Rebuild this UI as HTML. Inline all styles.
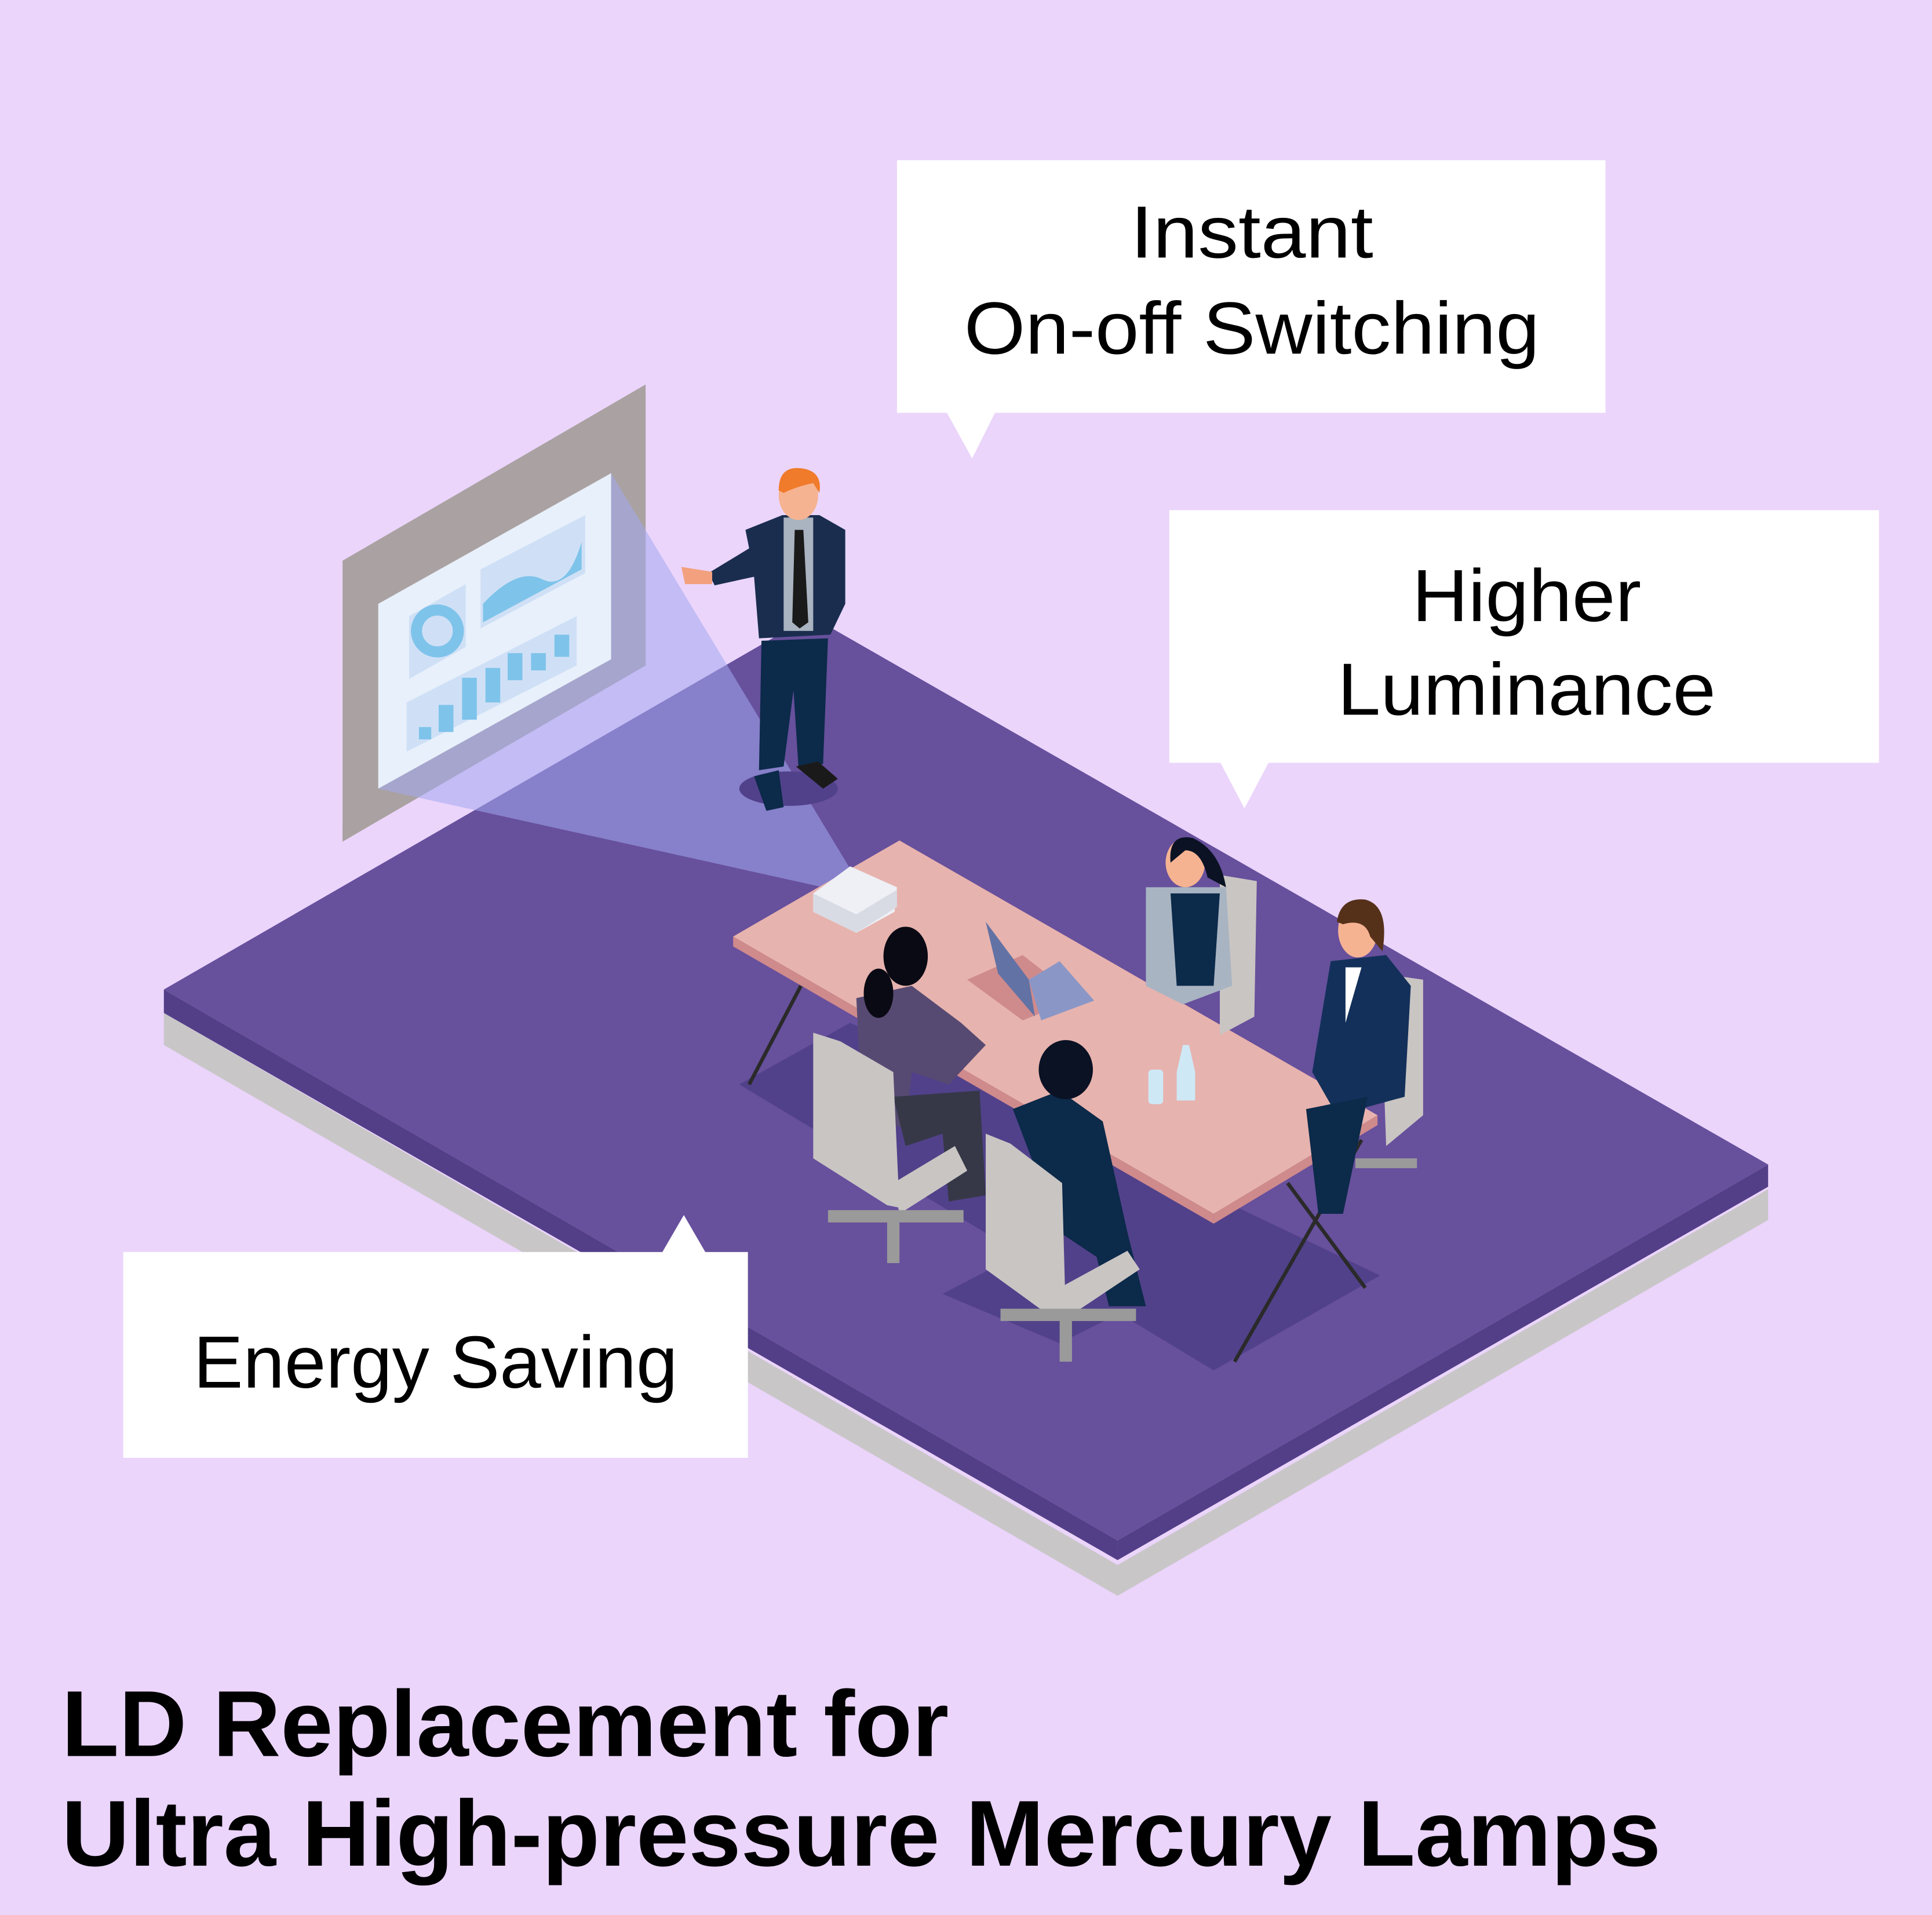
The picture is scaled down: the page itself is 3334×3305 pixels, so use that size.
<!DOCTYPE html>
<html><head><meta charset="utf-8"><style>
html,body{margin:0;padding:0;background:#ebd5fb;}
svg{display:block;}
text{font-family:"Liberation Sans","Noto Sans CJK JP",sans-serif;fill:#000;}
</style></head><body>
<svg width="3334" height="3305" viewBox="0 0 1568 1554" preserveAspectRatio="none" xmlns="http://www.w3.org/2000/svg">
<rect width="1568" height="1554" fill="#ebd5fb"/>
<!-- base -->
<polygon points="133,822 907,1270 1435,965 1435,990 907,1295 133,848" fill="#c9c6c8"/>
<polygon points="133,803 907,1250 907,1266 133,822" fill="#533f88"/>
<polygon points="907,1250 1435,945 1435,963 907,1266" fill="#533f88"/>
<polygon points="133,803 658,500 1435,945 907,1250" fill="#67509c"/>
<!-- screen -->
<polygon points="278,455 524,312 524,540 278,683" fill="#aaa2a2"/>
<polygon points="307,490 496,384 496,535 307,640" fill="#e8f0fb"/>
<polygon points="332,500 378,474 378,525 332,551" fill="#cfe0f6"/>
<circle cx="355" cy="512" r="17" fill="none" stroke="#7ec3ea" stroke-width="9"/>
<polygon points="390,462 475,418 475,465 390,510" fill="#cfe0f6"/>
<path d="M392,490 Q420,460 440,470 T472,440 L472,462 L392,505Z" fill="#7ec3ea"/>
<polygon points="330,570 468,500 468,540 330,610" fill="#cfe0f6"/>
<g fill="#7ec3ea"><rect x="340" y="590" width="10" height="10"/><rect x="356" y="572" width="12" height="22"/><rect x="375" y="550" width="12" height="34"/><rect x="394" y="542" width="12" height="28"/><rect x="412" y="530" width="12" height="22"/><rect x="431" y="530" width="12" height="14"/><rect x="450" y="515" width="12" height="18"/></g>
<!-- beam -->
<polygon points="496,384 496,535 307,640 668,720 690,705" fill="#a3a8f0" opacity="0.55"/>
<!-- presenter -->
<ellipse cx="640" cy="640" rx="40" ry="14" fill="#51418a"/>
<polygon points="618,520 672,518 668,620 648,622 644,560 636,622 616,625" fill="#0c2a4a"/>
<polygon points="612,630 632,625 636,655 622,658" fill="#0c2a4a"/>
<polygon points="646,622 664,618 680,632 668,640" fill="#1a1a1a"/>
<polygon points="605,430 635,418 665,418 686,430 686,490 674,515 616,518 612,468 580,475 575,465 608,445" fill="#1a2d4f"/>
<polygon points="636,420 660,420 660,512 636,512" fill="#aab3c0"/>
<polygon points="645,430 652,430 656,505 649,510 643,505" fill="#1a1a1a"/>
<polygon points="553,460 578,464 578,474 556,474" fill="#f2a07e"/>
<ellipse cx="648" cy="402" rx="16" ry="20" fill="#f6b392"/>
<path d="M632,398 Q632,378 650,380 Q668,382 665,400 L660,392 Q646,395 636,400Z" fill="#f07b2a"/>
<!-- table shadow -->
<polygon points="600,880 690,830 1120,1035 985,1112" fill="#51418a"/>
<polygon points="765,1050 880,990 960,1040 860,1090" fill="#51418a"/>
<!-- table -->
<polygon points="595,760 730,682 1118,905 985,985" fill="#e7b3ae"/>
<polygon points="595,760 985,985 985,993 595,768" fill="#cf8a8c"/>
<polygon points="985,985 1118,905 1118,913 985,993" fill="#cf8a8c"/>
<g stroke="#2a2a2a" stroke-width="3"><line x1="650" y1="800" x2="608" y2="880"/><line x1="1045" y1="960" x2="1108" y2="1045"/><line x1="1105" y1="925" x2="1002" y2="1105"/></g>
<!-- projector -->
<polygon points="660,725 690,703 728,720 726,740 695,757 660,740" fill="#eef0f5"/>
<polygon points="660,725 695,742 728,722 728,736 695,757 660,740" fill="#d8dbe4"/>
<!-- laptop -->
<polygon points="785,795 830,775 875,810 830,828" fill="#cf8a8c"/>
<polygon points="800,748 835,795 840,825 810,790" fill="#6272a4"/>
<polygon points="835,795 860,780 888,812 845,828" fill="#8a97c6"/>
<!-- woman back-right -->
<polygon points="990,710 1020,715 1018,825 990,840" fill="#c9c5c3"/>
<polygon points="930,720 995,720 1000,800 960,815 930,800" fill="#a9b4c2"/>
<polygon points="950,725 990,725 985,800 955,800" fill="#0c2a4a"/>
<ellipse cx="962" cy="700" rx="16" ry="20" fill="#f6b392"/>
<path d="M950,700 Q948,676 968,680 Q990,690 995,720 L980,712 Q975,690 962,690Z" fill="#0a1224"/>
<!-- man right -->
<polygon points="1120,790 1155,795 1155,905 1125,930" fill="#c9c5c3"/>
<polygon points="1080,780 1125,775 1145,800 1140,890 1085,905 1065,870" fill="#13305a"/>
<polygon points="1092,785 1105,785 1092,830" fill="#fff"/>
<polygon points="1060,900 1110,890 1090,985 1070,985" fill="#0c2a4a"/>
<polygon points="1100,940 1150,940 1150,948 1100,948" fill="#9a9a9a"/>
<ellipse cx="1102" cy="755" rx="16" ry="22" fill="#f6b392"/>
<path d="M1085,748 Q1088,728 1108,730 Q1128,735 1122,772 L1112,760 Q1108,745 1090,750Z" fill="#56311a"/>
<!-- water -->
<rect x="932" y="868" width="12" height="28" rx="3" fill="#cfe8f6"/>
<path d="M955,870 L960,848 L965,848 L970,870 L970,893 L955,893Z" fill="#cfe8f6"/>
<!-- woman front-left -->
<polygon points="695,810 740,800 780,830 800,848 770,880 740,870 735,915 700,910" fill="#574a72"/>
<polygon points="725,890 795,885 800,970 770,975 765,920 735,930" fill="#363848"/>
<ellipse cx="735" cy="776" rx="18" ry="24" fill="#0a0a14"/>
<ellipse cx="713" cy="806" rx="12" ry="20" fill="#0a0a14"/>
<polygon points="660,838 682,845 725,870 730,980 720,978 660,940" fill="#c9c5c3"/>
<polygon points="725,960 775,930 785,950 730,985" fill="#c9c5c3"/>
<rect x="672" y="982" width="110" height="10" fill="#9a9a9a"/>
<rect x="720" y="985" width="10" height="40" fill="#9a9a9a"/>
<!-- man front -->
<polygon points="822,900 860,885 895,910 915,1000 930,1060 900,1060 890,1020 860,1000" fill="#0c2a4a"/>
<ellipse cx="865" cy="868" rx="22" ry="24" fill="#0a1224"/>
<polygon points="800,920 820,928 862,960 865,1070 855,1070 800,1030" fill="#c9c5c3"/>
<polygon points="860,1045 915,1015 925,1030 865,1070" fill="#c9c5c3"/>
<rect x="812" y="1062" width="110" height="10" fill="#9a9a9a"/>
<rect x="860" y="1065" width="10" height="40" fill="#9a9a9a"/>
<!-- callouts -->
<rect x="728" y="130" width="575" height="205" fill="#fff"/>
<polygon points="768,334 808,334 789,372" fill="#fff"/>
<text x="1016" y="209" font-size="60" text-anchor="middle" textLength="197" lengthAdjust="spacingAndGlyphs">Instant</text>
<text x="1016" y="287" font-size="60" text-anchor="middle" textLength="467" lengthAdjust="spacingAndGlyphs">On-off Switching</text>
<rect x="949" y="414" width="576" height="205" fill="#fff"/>
<polygon points="990,618 1030,618 1010,656" fill="#fff"/>
<text x="1239" y="504" font-size="60" text-anchor="middle" textLength="186" lengthAdjust="spacingAndGlyphs">Higher</text>
<text x="1239" y="580" font-size="60" text-anchor="middle" textLength="307" lengthAdjust="spacingAndGlyphs">Luminance</text>
<rect x="100" y="1016" width="507" height="167" fill="#fff"/>
<polygon points="537,1017 573,1017 555,986" fill="#fff"/>
<text x="157" y="1126" font-size="60" textLength="393" lengthAdjust="spacingAndGlyphs">Energy Saving</text>
<!-- title -->
<text x="50" y="1425" font-size="76" font-weight="bold" textLength="720" lengthAdjust="spacingAndGlyphs">LD Replacement for</text>
<text x="50" y="1514" font-size="76" font-weight="bold" textLength="1298" lengthAdjust="spacingAndGlyphs">Ultra High-pressure Mercury Lamps</text>
</svg>
</body></html>
